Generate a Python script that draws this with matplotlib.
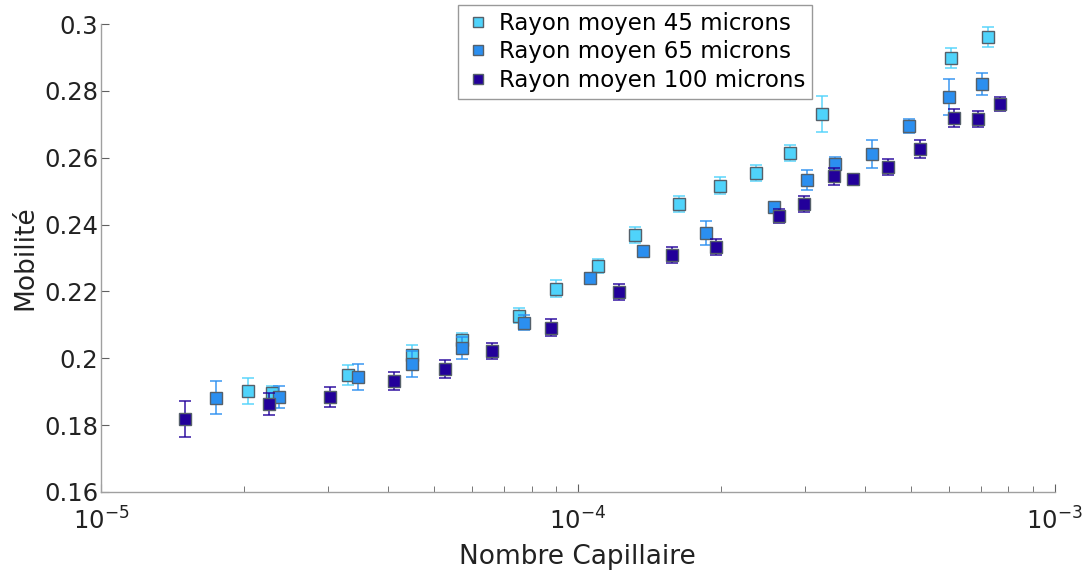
import numpy as np
import matplotlib
matplotlib.use("Agg")
import matplotlib.pyplot as plt

# Data (Nombre Capillaire vs Mobilité)
ca_45 = [2.03e-5, 2.28e-5, 3.30e-5, 4.49e-5, 5.71e-5, 7.52e-5, 8.99e-5, 1.10e-4,
         1.32e-4, 1.63e-4, 1.99e-4, 2.37e-4, 2.78e-4, 3.26e-4, 6.05e-4, 7.24e-4]
mob_45 = [0.1902, 0.1896, 0.1950, 0.2010, 0.2055, 0.2127, 0.2208, 0.2276,
          0.2369, 0.2462, 0.2516, 0.2554, 0.2614, 0.2731, 0.2898, 0.2961]
err_45 = [0.004, 0.002, 0.003, 0.003, 0.002, 0.0022, 0.0025, 0.002,
          0.0025, 0.0025, 0.0025, 0.0025, 0.0025, 0.0055, 0.003, 0.003]

ca_65 = [1.74e-5, 2.36e-5, 3.46e-5, 4.49e-5, 5.71e-5, 7.71e-5, 1.06e-4, 1.37e-4,
         1.86e-4, 2.58e-4, 3.02e-4, 3.46e-4, 4.15e-4, 4.94e-4, 6.00e-4, 7.03e-4]
mob_65 = [0.1882, 0.1884, 0.1944, 0.1983, 0.2031, 0.2106, 0.2240, 0.2321,
          0.2375, 0.2453, 0.2534, 0.2581, 0.2611, 0.2695, 0.2782, 0.2821]
err_65 = [0.005, 0.0034, 0.004, 0.004, 0.0034, 0.0022, 0.0015, 0.0008,
          0.0037, 0.001, 0.003, 0.002, 0.0042, 0.002, 0.0054, 0.0034]

ca_100 = [1.50e-5, 2.25e-5, 3.02e-5, 4.11e-5, 5.26e-5, 6.60e-5, 8.78e-5, 1.22e-4,
          1.58e-4, 1.95e-4, 2.64e-4, 2.98e-4, 3.44e-4, 3.77e-4, 4.47e-4, 5.21e-4,
          6.14e-4, 6.90e-4, 7.67e-4]
mob_100 = [0.1818, 0.1863, 0.1884, 0.1932, 0.1968, 0.2022, 0.2091, 0.2198,
           0.2309, 0.2333, 0.2426, 0.2462, 0.2545, 0.2536, 0.2572, 0.2626,
           0.2719, 0.2716, 0.2761]
err_100 = [0.0055, 0.0032, 0.003, 0.0027, 0.0028, 0.0023, 0.0025, 0.0023,
           0.0023, 0.0025, 0.002, 0.0025, 0.0025, 0.0015, 0.0023, 0.0028,
           0.0026, 0.0025, 0.002]

series = [
    ("Rayon moyen 45 microns", ca_45, mob_45, err_45, "#4fd3fb"),
    ("Rayon moyen 65 microns", ca_65, mob_65, err_65, "#2b8ff0"),
    ("Rayon moyen 100 microns", ca_100, mob_100, err_100, "#22009a"),
]

fig = plt.figure(figsize=(10.85, 5.74), dpi=100)
ax = fig.add_axes([0.093, 0.143, 0.879, 0.815])

handles = []
for label, x, y, e, col in series:
    ax.errorbar(x, y, yerr=e, fmt="none", ecolor=col, elinewidth=1.2,
                capsize=4, capthick=1.2, alpha=0.85)
    h, = ax.plot(x, y, "s", color=col, markersize=9, markeredgecolor="#55606a",
                 markeredgewidth=1.0, linestyle="none", label=label)
    handles.append(h)

ax.set_xscale("log")
ax.set_xlim(1e-5, 1e-3)
ax.set_ylim(0.16, 0.3)
ax.set_yticks([0.16, 0.18, 0.2, 0.22, 0.24, 0.26, 0.28, 0.3])
ax.set_yticklabels(["0.16", "0.18", "0.2", "0.22", "0.24", "0.26", "0.28", "0.3"])

for side in ["top", "right"]:
    ax.spines[side].set_visible(False)
for side in ["left", "bottom"]:
    ax.spines[side].set_color("#a0a0a0")
    ax.spines[side].set_linewidth(1.0)

ax.tick_params(which="both", direction="in", colors="#606060", labelcolor="#222222",
               labelsize=17.5)
ax.tick_params(which="major", length=6)
ax.tick_params(which="minor", length=4)
ax.tick_params(axis="x", which="both", pad=11)
ax.tick_params(axis="y", which="both", pad=2)

ax.set_xlabel("Nombre Capillaire", fontsize=19, color="#222222", labelpad=7)
ax.set_ylabel("Mobilité", fontsize=19, color="#222222", labelpad=4)

leg = ax.legend(handles=handles, loc="upper center", bbox_to_anchor=(0.56, 1.066),
                fontsize=16.5, frameon=True, fancybox=False, handletextpad=0.3,
                handlelength=1.2, borderpad=0.3, labelspacing=0.25, markerscale=0.8)
leg.get_frame().set_edgecolor("#808080")
leg.get_frame().set_linewidth(1.0)

fig.savefig("out.png", dpi=100)
